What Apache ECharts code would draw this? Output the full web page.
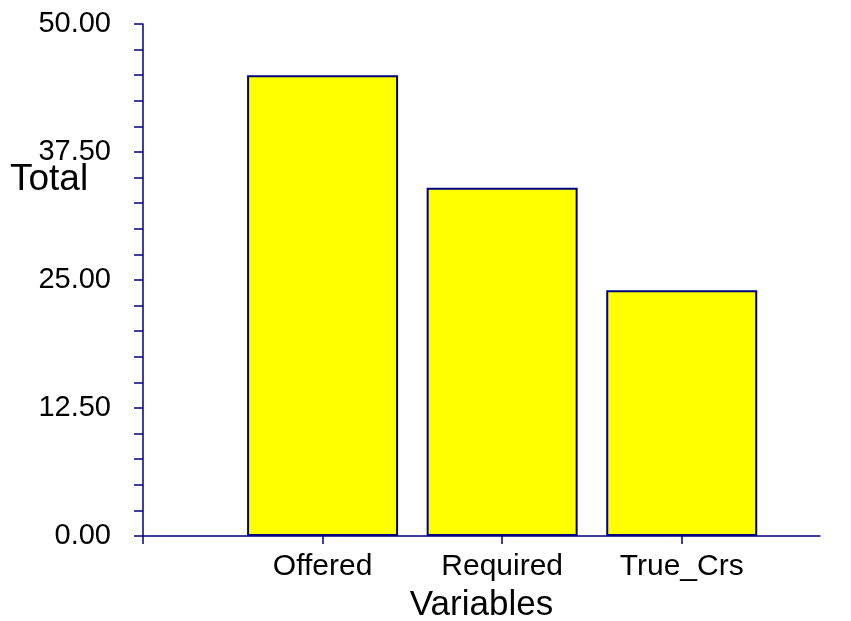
<!DOCTYPE html>
<html>
<head>
<meta charset="utf-8">
<script src="https://cdn.jsdelivr.net/npm/echarts@6/dist/echarts.min.js"></script>
<style>
  html, body { margin: 0; padding: 0; background: #fff; }
  #chart { width: 851px; height: 621px; }
</style>
</head>
<body>
<div id="chart"></div>
<script>
// data
var categories = ['Offered', 'Required', 'True_Crs'];
var totals = [45, 34, 24];

var navy = '#000080';
var myChart = echarts.init(document.getElementById('chart'));

// bars sit on a value x axis at positions 1,2,3 so the axis can run past the last bar
var barData = categories.map(function (c, i) { return [i + 1, totals[i]]; });

var option = {
  animation: false,
  textStyle: { fontFamily: 'Liberation Sans, Arial, sans-serif', color: '#000' },
  grid: { left: 143, right: 31, top: 24, bottom: 85, containLabel: false, outerBoundsMode: 'none' },
  xAxis: {
    type: 'value',
    min: 0,
    max: 3.77,
    name: 'Variables',
    nameLocation: 'middle',
    nameGap: 52,
    nameTextStyle: { fontSize: 35, color: '#000' },
    splitLine: { show: false },
    axisLine: { show: true, onZero: false, lineStyle: { color: navy, width: 1.5 } },
    axisTick: { show: true, length: 8, customValues: [0, 1, 2, 3], lineStyle: { color: navy, width: 1.5 } },
    axisLabel: {
      customValues: [1, 2, 3],
      fontSize: 30,
      color: '#000',
      margin: 16,
      formatter: function (v) { return categories[Math.round(v) - 1] || ''; }
    }
  },
  yAxis: {
    type: 'value',
    min: 0,
    max: 50,
    interval: 12.5,
    splitLine: { show: false },
    axisLine: { show: true, lineStyle: { color: navy, width: 1.5 } },
    axisTick: { show: true, length: 9, lineStyle: { color: navy, width: 1.5 } },
    minorTick: { show: true, splitNumber: 5, length: 9, lineStyle: { color: navy, width: 1.5 } },
    axisLabel: {
      fontSize: 29,
      color: '#000',
      margin: 32,
      formatter: function (v) { return v.toFixed(2); }
    }
  },
  graphic: [
    {
      type: 'text',
      left: 10,
      top: 161,
      style: { text: 'Total', fontSize: 37, fill: '#000', fontFamily: 'Liberation Sans, Arial, sans-serif' }
    }
  ],
  series: [
    {
      type: 'bar',
      barWidth: 151,
      data: barData,
      itemStyle: { color: '#ffff00', borderColor: navy, borderWidth: 2 }
    }
  ]
};
myChart.setOption(option);
</script>
</body>
</html>
